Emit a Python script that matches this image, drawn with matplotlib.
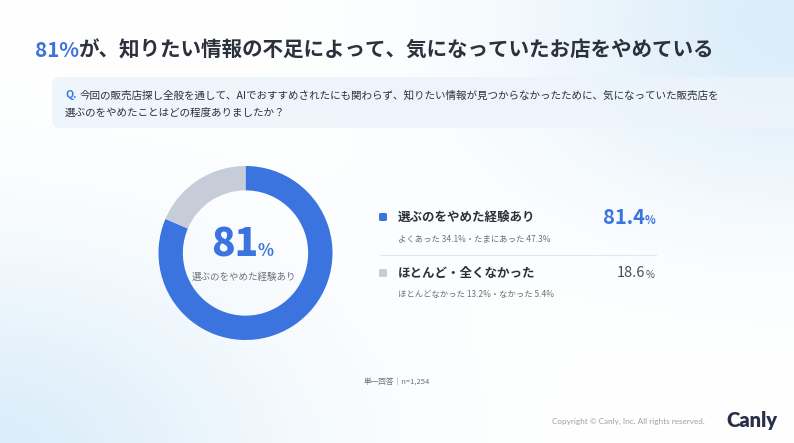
import numpy as np
import matplotlib.pyplot as plt
from matplotlib.patches import FancyBboxPatch

plt.rcParams['font.family'] = ['Noto Sans CJK JP', 'DejaVu Sans']

# data
labels = ['選ぶのをやめた経験あり', 'ほとんど・全くなかった']
shares = [81.4, 18.6]
details = ['よくあった 34.1%・たまにあった 47.3%', 'ほとんどなかった 13.2%・なかった 5.4%']
colors = ['#3b74de', '#c6ccd8']

title_hl = '81%'
title_rest = 'が、知りたい情報の不足によって、気になっていたお店をやめている'
question = ['今回の販売店探し全般を通して、AIでおすすめされたにも関わらず、知りたい情報が見つからなかったために、気になっていた販売店を',
            '選ぶのをやめたことはどの程度ありましたか？']
note = '単一回答｜n=1,254'
W, H = 794, 443

fig = plt.figure(figsize=(W / 100, H / 100), dpi=100)

# background with soft blue glows
bg = fig.add_axes([0, 0, 1, 1])
yy, xx = np.mgrid[0:H, 0:W]
g1 = np.exp(-(((xx - 800) / 270.0) ** 2 + ((yy - 20) / 180.0) ** 2))
g2 = np.exp(-(((xx + 20) / 300.0) ** 2 + ((yy - 460) / 200.0) ** 2))
g = np.clip(g1 + g2, 0, 1)
img = np.ones((H, W, 3))
tint = np.array([0.86, 0.93, 0.98])
img = img * (1 - g[..., None]) + tint * g[..., None]
bg.imshow(img, extent=[0, W, H, 0], aspect='auto')
bg.set_xlim(0, W)
bg.set_ylim(H, 0)
bg.axis('off')

blue = colors[0]
dark = '#2c313b'
grey = '#6b707a'

# title
t = bg.text(35, 50, title_hl, fontsize=14.8, fontweight='bold', color=blue, va='center', ha='left')
fig.canvas.draw()
bb = t.get_window_extent()
bg.text(35 + bb.width, 50, title_rest, fontsize=14.8, fontweight='bold', color=dark, va='center', ha='left')

# question box
box = FancyBboxPatch((52, 77), 760, 51, boxstyle='round,pad=0,rounding_size=8',
                     fc='#edf4fb', ec='none', alpha=0.9)
bg.add_patch(box)
q = bg.text(65, 95, 'Q.', fontsize=7.6, fontweight='bold', color=blue, va='center')
fig.canvas.draw()
qb = q.get_window_extent()
bg.text(65 + qb.width + 3, 95, question[0], fontsize=7.6, color=dark, va='center')
bg.text(65, 113, question[1], fontsize=7.6, color=dark, va='center')

# donut
cx, cy, r = 245.5, 253, 87
ax = fig.add_axes([(cx - r) / W, (H - cy - r) / H, 2 * r / W, 2 * r / H])
ax.pie(shares, colors=colors, startangle=90, counterclock=False,
       wedgeprops=dict(width=0.28, edgecolor='none'))
ax.set_xlim(-1, 1)
ax.set_ylim(-1, 1)
ax.axis('off')

bg.text(258, 245, f'{round(shares[0])}', fontsize=28, fontweight='heavy', color=blue,
        va='center', ha='right')
bg.text(258, 251, '%', fontsize=12, fontweight='bold', color=blue, va='center', ha='left')
bg.text(244, 277, labels[0], fontsize=6.8, color=grey, va='center', ha='center')

# legend rows
rows_y = [217, 273]
for i, (lab, val, det, col) in enumerate(zip(labels, shares, details, colors)):
    y = rows_y[i]
    bg.add_patch(FancyBboxPatch((379, y - 4), 8, 8, boxstyle='round,pad=0,rounding_size=1.5',
                                fc=col, ec='none'))
    bg.text(398, y, lab, fontsize=9, fontweight='bold', color=dark, va='center')
    bg.text(398, y + 22, det, fontsize=6.0, color=grey, va='center')
    if i == 0:
        bg.text(645, y, f'{val:.1f}', fontsize=14.5, fontweight='bold', color=blue, va='center', ha='right')
        bg.text(645, y + 3, '%', fontsize=8, fontweight='bold', color=blue, va='center', ha='left')
    else:
        bg.text(645, y, f'{val:.1f}', fontsize=10.5, color='#4a4f58', va='center', ha='right')
        bg.text(646, y + 2, '%', fontsize=7, color='#4a4f58', va='center', ha='left')
bg.plot([380, 656], [255, 255], color='#e3e6eb', lw=0.8)

# footer
bg.text(397, 383, note, fontsize=5.5, color=grey, va='center', ha='center')
bg.text(705, 421, 'Copyright © Canly, Inc. All rights reserved.', fontsize=5.9,
        color='#9aa0aa', va='center', ha='right', family=['Lato', 'DejaVu Sans'])
bg.text(726, 420, 'Canly', fontsize=14.5, fontweight='heavy', color='#2b2f45', va='center',
        ha='left', family=['Lato', 'DejaVu Sans'])

fig.savefig('out.png', dpi=100)
